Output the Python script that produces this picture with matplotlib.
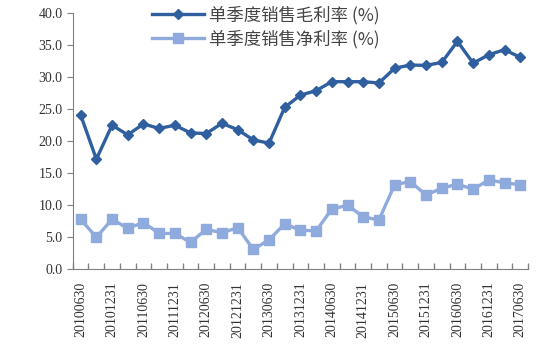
import matplotlib.pyplot as plt

plt.rcParams['font.family'] = ['Liberation Serif', 'Noto Sans CJK SC']

dates = ["20100630", "20100930", "20101231", "20110331", "20110630", "20110930",
         "20111231", "20120331", "20120630", "20120930", "20121231", "20130331",
         "20130630", "20130930", "20131231", "20140331", "20140630", "20140930",
         "20141231", "20150331", "20150630", "20150930", "20151231", "20160331",
         "20160630", "20160930", "20161231", "20170331", "20170630"]
gross = [24.1, 17.2, 22.5, 21.0, 22.7, 22.0, 22.5, 21.3, 21.2, 22.8, 21.8, 20.2,
         19.7, 25.3, 27.2, 27.9, 29.3, 29.3, 29.3, 29.1, 31.4, 31.9, 31.85, 32.3,
         35.6, 32.2, 33.5, 34.3, 33.1]
net = [7.8, 5.0, 7.8, 6.4, 7.3, 5.6, 5.6, 4.2, 6.25, 5.7, 6.5, 3.1,
       4.6, 7.1, 6.1, 6.0, 9.4, 10.0, 8.2, 7.7, 13.2, 13.7, 11.6, 12.65,
       13.3, 12.5, 13.95, 13.5, 13.2]
labels = ["单季度销售毛利率 (%)", "单季度销售净利率 (%)"]

x = list(range(len(dates)))

fig = plt.figure(figsize=(5.6, 3.47), dpi=100)
ax = fig.add_axes([0.130, 0.224, 0.813, 0.738])

ax.plot(x, gross, color='#2F5F9E', lw=2.4, marker='D', ms=5, label=labels[0])
ax.plot(x, net, color='#8FAADC', lw=2.4, marker='s', ms=7.5, label=labels[1])

ax.set_ylim(0, 40)
ax.set_xlim(-0.5, len(dates) - 0.5)
ax.set_yticks(range(0, 41, 5))
ax.set_yticklabels([f"{v:.1f}" for v in range(0, 41, 5)], fontsize=10, color='#333333')

ax.set_xticks(x[::2])
ax.set_xticklabels(dates[::2], rotation=90, fontsize=10, color='#333333')
ax.tick_params(axis='x', which='major', length=0, pad=9)
ax.set_xticks([i - 0.5 for i in range(len(dates) + 1)], minor=True)
ax.tick_params(axis='x', which='minor', direction='in', length=4, width=1, color='#808080')
ax.tick_params(axis='y', direction='out', length=4, color='#808080')

for s in ['top', 'right']:
    ax.spines[s].set_visible(False)
for s in ['left', 'bottom']:
    ax.spines[s].set_color('#808080')

leg = ax.legend(loc='upper left', bbox_to_anchor=(0.14, 1.09), frameon=False,
                handlelength=3.0, handletextpad=0.3, labelspacing=0.3,
                prop={'family': ['Noto Sans CJK SC', 'Liberation Serif'], 'size': 12.5})
for t in leg.get_texts():
    t.set_color('#444444')

fig.savefig('out.png', dpi=100)
